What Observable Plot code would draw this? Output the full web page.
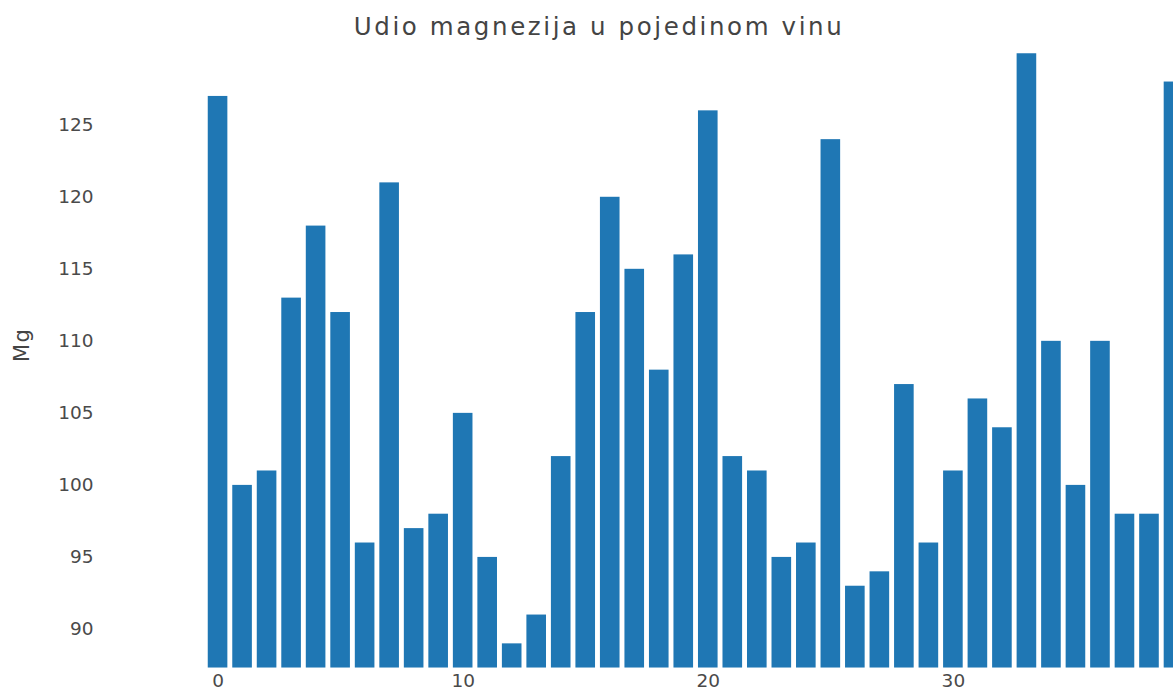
<!DOCTYPE html>
<html>
<head>
<meta charset="utf-8">
<script src="https://cdn.jsdelivr.net/npm/d3@7"></script>
<script src="https://cdn.jsdelivr.net/npm/@observablehq/plot@0.6"></script>
<style>
  html, body { margin: 0; padding: 0; background: #fff; overflow: hidden; }
  #chart svg { display: block; }
</style>
</head>
<body>
<div id="chart"></div>
<script>
const title = "Udio magnezija u pojedinom vinu";
const yLabel = "Mg";
const wineIndex = d3.range(40);
const magnesium = [127, 100, 101, 113, 118, 112, 96, 121, 97, 98,
                   105, 95, 89, 91, 102, 112, 120, 115, 108, 116,
                   126, 102, 101, 95, 96, 124, 93, 94, 107, 96,
                   101, 106, 104, 132, 110, 100, 110, 98, 98, 128];
const xTicks = [0, 10, 20, 30];
const yTicks = [90, 95, 100, 105, 110, 115, 120, 125];

const data = wineIndex.map((i, k) => ({i, v: magnesium[k]}));
const yMin = 87.31, yMax = 129.96;

const chart = Plot.plot({
  width: 1173,
  height: 691,
  marginTop: 53.3,
  marginBottom: 23.3,
  marginLeft: 100,
  marginRight: 0,
  style: {fontFamily: "'DejaVu Sans', Verdana, sans-serif", fontSize: "18.5px", color: "#444", background: "#fff"},
  x: {domain: [-4.796, 38.98], ticks: xTicks, tickFormat: d => String(d), tickSize: 0, tickPadding: 6, label: null},
  y: {domain: [yMin, yMax], ticks: yTicks, tickFormat: d => String(d), tickSize: 0, tickPadding: 7, label: null},
  marks: [
    Plot.rectY(data, {x1: d => d.i - 0.4, x2: d => d.i + 0.4, y1: yMin, y2: "v", fill: "#1f77b4", clip: true}),
    Plot.axisX({ticks: xTicks, tickSize: 0, tickPadding: 6, fontSize: 18.5, fill: "#4a4a4a", label: null}),
    Plot.axisY({ticks: yTicks, tickSize: 0, tickPadding: 7, fontSize: 18.5, fill: "#4a4a4a", label: null}),
    Plot.text([title], {frameAnchor: "top", dx: -38, dy: -27, lineAnchor: "middle", fontSize: 24.5, fill: "#444", className: "ttl"}),
    Plot.text([yLabel], {frameAnchor: "left", dx: -78, dy: 1, rotate: -90, lineAnchor: "middle", fontSize: 21, fill: "#444", className: "ylab"})
  ]
});
d3.select(chart).selectAll(".ttl text").attr("letter-spacing", "2.6px");
d3.select(chart).selectAll(".ylab text").attr("letter-spacing", "1.5px");
document.getElementById("chart").appendChild(chart);
</script>
</body>
</html>
